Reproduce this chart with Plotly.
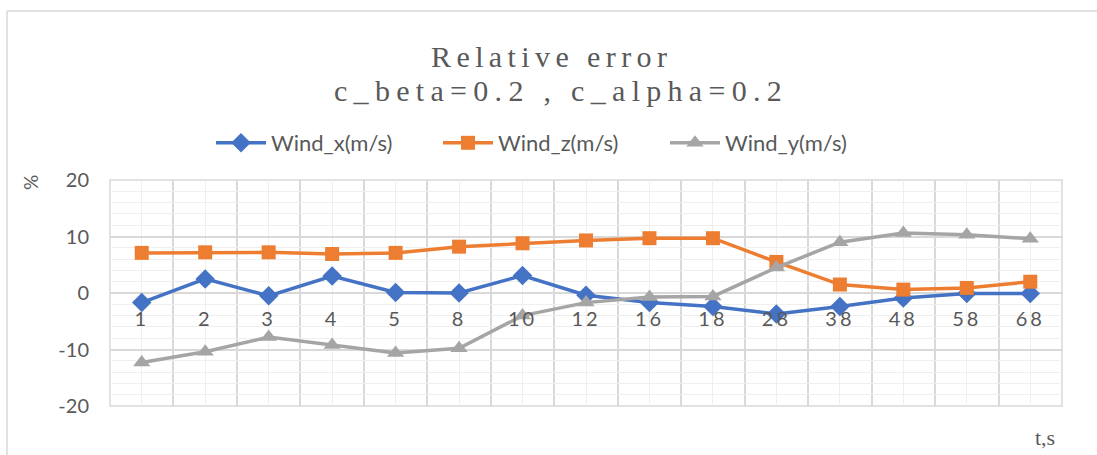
import plotly.graph_objects as go

categories = ["1", "2", "3", "4", "5", "8", "10", "12", "16", "18", "28", "38", "48", "58", "68"]
wind_x = [-1.7, 2.5, -0.5, 3.0, 0.1, 0.0, 3.1, -0.4, -1.7, -2.4, -3.7, -2.4, -0.9, -0.1, -0.1]
wind_z = [7.1, 7.2, 7.2, 6.9, 7.1, 8.2, 8.8, 9.3, 9.7, 9.7, 5.5, 1.5, 0.6, 0.9, 2.0]
wind_y = [-12.3, -10.4, -7.8, -9.2, -10.6, -9.8, -4.0, -1.7, -0.7, -0.6, 4.5, 9.0, 10.6, 10.3, 9.6]
y_ticks = [-20, -10, 0, 10, 20]
y_tick_labels = ["-20", "-10", "0", "10", "20"]

idx = list(range(len(categories)))
GRAY_TXT = "#595959"
SERIF = "Liberation Serif"

fig = go.Figure()
series = [
    ("Wind_x(m/s)", wind_x, "#4472C4", "diamond", 15),
    ("Wind_z(m/s)", wind_z, "#ED7D31", "square", 14),
    ("Wind_y(m/s)", wind_y, "#A5A5A5", "triangle-up", 15),
]
for name, vals, col, sym, sz in series:
    fig.add_trace(go.Scatter(
        x=idx, y=vals, name=name, mode="lines+markers",
        line=dict(color=col, width=3.5),
        marker=dict(symbol=sym, size=sz, color=col, line=dict(width=0)),
    ))

spaced = [f'<span style="letter-spacing:3px">{c}</span>' for c in categories]

W, H = 1097, 455
ML, MR, MT, MB = 110, 35, 180, 49
PW, PH = W - ML - MR, H - MT - MB


def px(x):
    return (x - ML) / PW


def py(y):
    return (H - MB - y) / PH


fig.update_layout(
    width=W, height=H,
    margin=dict(l=ML, r=MR, t=MT, b=MB),
    paper_bgcolor="white", plot_bgcolor="white",
    font=dict(family="Lato", color=GRAY_TXT),
    showlegend=True,
    legend=dict(
        orientation="h", x=px(211), xanchor="left", y=py(143), yanchor="middle",
        font=dict(size=22, color=GRAY_TXT), entrywidth=162, entrywidthmode="pixels",
        itemwidth=50, bgcolor="rgba(0,0,0,0)",
    ),
    xaxis=dict(
        range=[-0.5, len(categories) - 0.5],
        tickmode="array", tickvals=idx, ticktext=spaced,
        anchor="free", position=0.5, side="bottom",
        showline=False, ticks="", zeroline=False,
        tickfont=dict(size=20, color=GRAY_TXT),
        showgrid=True, gridcolor="#efefef", gridwidth=1,
        minor=dict(tick0=0.5, dtick=1, showgrid=True, gridcolor="#d9d9d9", gridwidth=1.5, ticks=""),
        ticklabelstandoff=12,
    ),
    yaxis=dict(
        range=[-20, 20], tickmode="array", tickvals=y_ticks, ticktext=y_tick_labels,
        showline=False, ticks="", zeroline=False,
        tickfont=dict(size=20, color=GRAY_TXT),
        showgrid=True, gridcolor="#d9d9d9", gridwidth=1.5,
        minor=dict(dtick=2, showgrid=True, gridcolor="#efefef", gridwidth=1, ticks=""),
        ticklabelstandoff=20,
    ),
    shapes=[
        dict(type="rect", xref="x domain", yref="y domain", x0=0, x1=1, y0=0, y1=1,
             line=dict(color="#d9d9d9", width=1.5), layer="below"),
        dict(type="line", xref="paper", yref="paper", x0=px(7), x1=px(7), y0=-1, y1=py(11),
             line=dict(color="#d9d9d9", width=1.5)),
        dict(type="line", xref="paper", yref="paper", x0=px(7), x1=2, y0=py(11), y1=py(11),
             line=dict(color="#d9d9d9", width=1.5)),
    ],
    annotations=[
        dict(text='<span style="letter-spacing:5.4px">Relative error</span>', xref="paper", yref="paper",
             x=px(551), y=py(56), xanchor="center", yanchor="middle", showarrow=False,
             font=dict(family=SERIF, size=30, color=GRAY_TXT)),
        dict(text='<span style="letter-spacing:6.3px">c_beta=0.2 , c_alpha=0.2</span>', xref="paper", yref="paper",
             x=px(561), y=py(90), xanchor="center", yanchor="middle", showarrow=False,
             font=dict(family=SERIF, size=30, color=GRAY_TXT)),
        dict(text="%", xref="paper", yref="paper", x=px(30), y=py(183),
             xanchor="center", yanchor="middle", showarrow=False, textangle=-90,
             font=dict(size=19, color=GRAY_TXT)),
        dict(text="t,s", xref="paper", yref="paper", x=px(1045), y=py(437),
             xanchor="center", yanchor="middle", showarrow=False,
             font=dict(family=SERIF, size=22, color=GRAY_TXT)),
    ],
)

fig.write_html("out.html")
